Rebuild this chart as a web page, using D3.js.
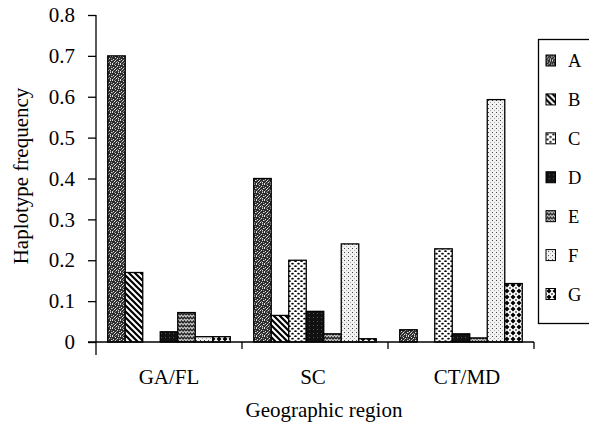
<!DOCTYPE html>
<html><head><meta charset="utf-8">
<script src="https://cdn.jsdelivr.net/npm/d3@7"></script>
<style>body{margin:0;background:#fff}svg{display:block}text{font-family:"Liberation Serif","Times New Roman",serif;fill:#000}</style>
</head><body><svg id="c" width="589" height="423"></svg>
<script>
const regions = ["GA/FL", "SC", "CT/MD"];
const haplotypes = ["A", "B", "C", "D", "E", "F", "G"];
const valA = [0.70, 0.40, 0.03];
const valB = [0.17, 0.065, 0];
const valC = [0, 0.20, 0.228];
const valD = [0.025, 0.075, 0.02];
const valE = [0.072, 0.02, 0.01];
const valF = [0.013, 0.24, 0.593];
const valG = [0.013, 0.008, 0.143];
const yTicks = [0, 0.1, 0.2, 0.3, 0.4, 0.5, 0.6, 0.7, 0.8];
const series = [valA, valB, valC, valD, valE, valF, valG];

const svg = d3.select("#c");
const defs = svg.append("defs");
function pat(id, w, h, draw) {
  const p = defs.append("pattern").attr("id", id).attr("patternUnits", "userSpaceOnUse")
    .attr("width", w).attr("height", h);
  draw(p);
}
function px(p, pts, col) {
  pts.forEach(([a, b]) => p.append("rect").attr("x", a).attr("y", b).attr("width", 1).attr("height", 1).attr("fill", col));
}
// A: dark noisy stipple
pat("pA", 8, 8, p => {
  p.append("rect").attr("width", 8).attr("height", 8).attr("fill", "#2e2e2e");
  px(p, [[0,0],[3,1],[6,0],[1,3],[5,2],[7,4],[2,5],[4,6],[0,7],[6,6],[3,4]], "#e0e0e0");
  px(p, [[2,0],[5,5],[1,6],[7,2],[4,3],[0,4],[6,7],[3,7]], "#8a8a8a");
});
// B: diagonal stripes
pat("pB", 6, 6, p => {
  p.append("rect").attr("width", 6).attr("height", 6).attr("fill", "#fff");
  p.append("path").attr("d", "M-1,-1L7,7M-1,5L1,7M5,-1L7,1").attr("stroke", "#000").attr("stroke-width", 2.2);
});
// C: dots
pat("pC", 6, 5, p => {
  p.append("rect").attr("width", 6).attr("height", 5).attr("fill", "#fff");
  p.append("ellipse").attr("cx", 1.5).attr("cy", 1.2).attr("rx", 1.3).attr("ry", 0.9).attr("fill", "#000");
  p.append("ellipse").attr("cx", 4.5).attr("cy", 3.7).attr("rx", 1.3).attr("ry", 0.9).attr("fill", "#000");
});
// D: near black
pat("pD", 4, 4, p => {
  p.append("rect").attr("width", 4).attr("height", 4).attr("fill", "#111");
  p.append("rect").attr("x", 1).attr("y", 1).attr("width", 1).attr("height", 1).attr("fill", "#555");
});
// E: zigzag
pat("pE", 6, 4, p => {
  p.append("rect").attr("width", 6).attr("height", 4).attr("fill", "#c8c8c8");
  p.append("path").attr("d", "M0,3L1.5,1L3,3L4.5,1L6,3").attr("stroke", "#222").attr("stroke-width", 1.3).attr("fill", "none");
});
// F: light sparse dots
pat("pF", 4, 4, p => {
  p.append("rect").attr("width", 4).attr("height", 4).attr("fill", "#f2f2f2");
  p.append("rect").attr("x", 0).attr("y", 0).attr("width", 1).attr("height", 1).attr("fill", "#444");
  p.append("rect").attr("x", 2).attr("y", 2).attr("width", 1).attr("height", 1).attr("fill", "#aaa");
});
// G: diamonds
pat("pG", 6, 6, p => {
  p.append("rect").attr("width", 6).attr("height", 6).attr("fill", "#fff");
  p.append("path").attr("d", "M3,0.5L5.5,3L3,5.5L0.5,3Z").attr("fill", "#000");
  p.append("path").attr("d", "M0,0L1,0L0,1ZM6,0L5,0L6,1ZM0,6L1,6L0,5ZM6,6L5,6L6,5Z").attr("fill", "#000");
});
const fills = haplotypes.map(h => "url(#p" + h + ")");

const x0 = d3.scaleBand().domain(regions).range([96, 534]).paddingInner(0).paddingOuter(0);
const x1 = d3.scaleBand().domain(haplotypes).range([0, x0.bandwidth()]).paddingInner(0).paddingOuter(0.67);
const y = d3.scaleLinear().domain([0, 0.8]).range([342, 15]);

// bars
haplotypes.forEach((h, i) => {
  svg.append("g").selectAll("rect").data(series[i].map((v, j) => ({ r: regions[j], v })))
    .join("rect")
    .filter(d => d.v > 0)
    .attr("x", d => x0(d.r) + x1(h))
    .attr("y", d => y(d.v))
    .attr("width", x1.bandwidth())
    .attr("height", d => y(0) - y(d.v))
    .attr("fill", fills[i])
    .attr("stroke", "#000")
    .attr("stroke-width", 1.3);
});

// y axis
const yAxis = d3.axisLeft(y).tickValues(yTicks).tickSize(8).tickPadding(13)
  .tickFormat(d => d === 0 ? "0" : d3.format(".1f")(d));
const gy = svg.append("g").attr("transform", "translate(96,0)").call(yAxis);
gy.select(".domain").remove();
gy.selectAll(".tick line").attr("stroke", "#000").attr("stroke-width", 1.3);
gy.selectAll(".tick text").style("font-family", '"Liberation Serif",serif').style("font-size", "21px");
svg.append("line").attr("x1", 96).attr("x2", 96).attr("y1", y(0.8)).attr("y2", 355)
  .attr("stroke", "#000").attr("stroke-width", 1.3);

// x axis
svg.append("line").attr("x1", 88).attr("x2", 534).attr("y1", y(0)).attr("y2", y(0))
  .attr("stroke", "#000").attr("stroke-width", 1.3);
const bounds = regions.slice(1).map(r => x0(r)).concat([x0(regions[2]) + x0.bandwidth()]);
svg.append("g").selectAll("line").data(bounds).join("line")
  .attr("x1", d => d).attr("x2", d => d).attr("y1", y(0)).attr("y2", y(0) + 7)
  .attr("stroke", "#000").attr("stroke-width", 1.3);
const labelDx = [0, -2, 6];
svg.append("g").selectAll("text").data(regions).join("text")
  .attr("x", (d, i) => x0(d) + x0.bandwidth() / 2 + labelDx[i]).attr("y", 384)
  .attr("text-anchor", "middle").style("font-size", "21px").text(d => d);

svg.append("text").attr("x", 324).attr("y", 417).attr("text-anchor", "middle")
  .style("font-size", "21px").text("Geographic region");
svg.append("text").attr("transform", "translate(28,176) rotate(-90)").attr("text-anchor", "middle")
  .style("font-size", "21px").text("Haplotype frequency");

// legend
svg.append("rect").attr("x", 538.5).attr("y", 39.5).attr("width", 60).attr("height", 284)
  .attr("fill", "#fff").attr("stroke", "#000").attr("stroke-width", 1.3);
const ly = d3.scalePoint().domain(haplotypes).range([60.5, 294]);
const lg = svg.append("g").selectAll("g").data(haplotypes).join("g")
  .attr("transform", d => `translate(0,${ly(d)})`);
lg.append("rect").attr("x", 546).attr("y", -5.5).attr("width", 9.5).attr("height", 11)
  .attr("fill", (d, i) => fills[i]).attr("stroke", "#000").attr("stroke-width", 1);
lg.append("text").attr("x", 568).attr("y", 6.5).style("font-size", "18.5px").text(d => d);
</script></body></html>
